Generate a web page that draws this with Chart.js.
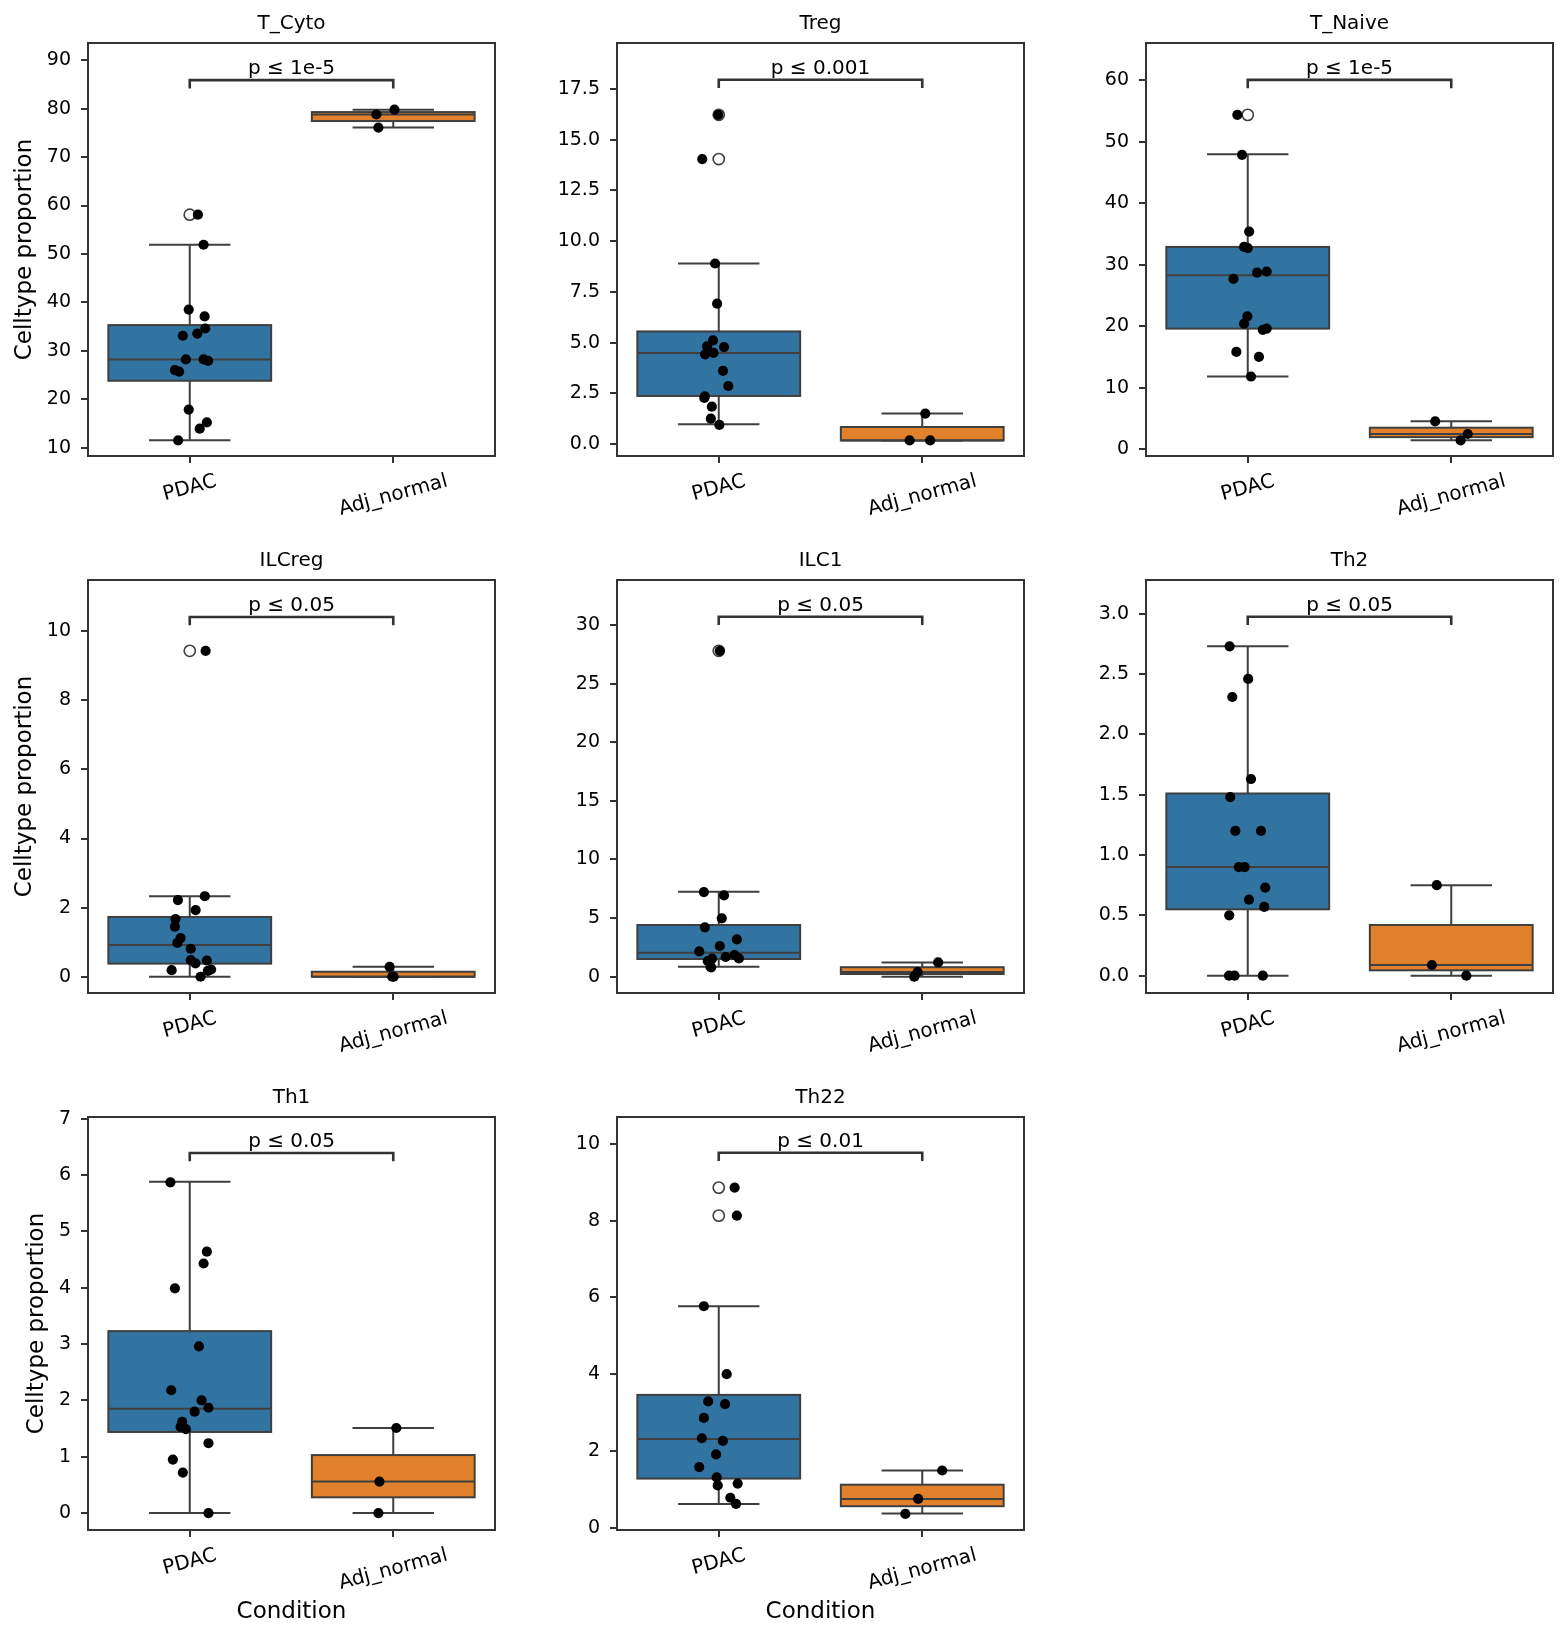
<!DOCTYPE html>
<html lang="en">
<head>
<meta charset="UTF-8">
<title>Celltype proportion by condition</title>
<script src="https://cdn.jsdelivr.net/npm/chart.js@4.4.1/dist/chart.umd.min.js"></script>
<style>
  body { margin: 0; background: #fff; }
  #fig { position: relative; width: 1568px; height: 1641px; }
  .panel { position: absolute; }
</style>
</head>
<body>
<div id="fig"></div>
<script>
// ---- data ----
const titles = ['T_Cyto', 'Treg', 'T_Naive', 'ILCreg', 'ILC1', 'Th2', 'Th1', 'Th22'];
const pLabels = ['p ≤ 1e-5', 'p ≤ 0.001', 'p ≤ 1e-5', 'p ≤ 0.05', 'p ≤ 0.05', 'p ≤ 0.05', 'p ≤ 0.05', 'p ≤ 0.01'];
const conditions = ['PDAC', 'Adj_normal'];

const yMin = [8.26, -0.59, -1.14, -0.47, -1.39, -0.144, -0.3, -0.06];
const yMax = [93.57, 19.77, 66.1, 11.48, 33.84, 3.28, 7.03, 10.7];
const yTicks = [
  [10, 20, 30, 40, 50, 60, 70, 80, 90],
  [0, 2.5, 5, 7.5, 10, 12.5, 15, 17.5],
  [0, 10, 20, 30, 40, 50, 60],
  [0, 2, 4, 6, 8, 10],
  [0, 5, 10, 15, 20, 25, 30],
  [0, 0.5, 1, 1.5, 2, 2.5, 3],
  [0, 1, 2, 3, 4, 5, 6, 7],
  [0, 2, 4, 6, 8, 10]
];
const yDecimals = [0, 1, 0, 0, 0, 1, 0, 0];

// box stats: [low whisker, q1, median, q3, high whisker]
const pdacBox = [
  [11.5, 23.8, 28.2, 35.3, 51.9],
  [0.97, 2.37, 4.49, 5.55, 8.9],
  [11.8, 19.6, 28.3, 32.9, 48.0],
  [0, 0.38, 0.92, 1.73, 2.33],
  [0.85, 1.51, 2.05, 4.41, 7.25],
  [0, 0.55, 0.90, 1.51, 2.73],
  [0, 1.44, 1.85, 3.23, 5.88],
  [0.62, 1.28, 2.31, 3.46, 5.77]
];
const adjBox = [
  [76.1, 77.45, 78.8, 79.3, 79.8],
  [0.18, 0.18, 0.18, 0.84, 1.5],
  [1.41, 1.93, 2.44, 3.47, 4.5],
  [0, 0, 0, 0.145, 0.29],
  [0, 0.23, 0.4, 0.81, 1.22],
  [0, 0.044, 0.088, 0.42, 0.75],
  [0, 0.28, 0.56, 1.03, 1.51],
  [0.37, 0.56, 0.75, 1.12, 1.49]
];
const pdacFliers = [[58.1], [16.23, 14.05], [54.4], [9.43], [27.8], [], [], [8.86, 8.13]];

const pdacValues = [
  [58.1, 51.9, 38.5, 37.1, 34.6, 33.55, 33.1, 28.2, 28.2, 27.9, 26.0, 25.7, 17.85, 15.2, 13.9, 11.5],
  [16.23, 14.05, 8.9, 6.92, 5.11, 4.81, 4.78, 4.42, 4.49, 3.61, 2.86, 2.35, 2.27, 1.84, 1.25, 0.94],
  [54.4, 47.9, 35.4, 32.9, 32.7, 28.9, 28.7, 27.7, 21.6, 20.4, 19.6, 19.4, 15.8, 15.0, 11.8],
  [9.43, 2.33, 2.22, 1.93, 1.67, 1.45, 1.12, 0.98, 0.81, 0.48, 0.47, 0.39, 0.19, 0.21, 0.17, 0.0],
  [27.8, 7.22, 6.94, 4.98, 4.21, 3.18, 2.62, 2.16, 1.85, 1.68, 1.56, 1.54, 1.34, 0.85, 0.8],
  [2.73, 2.46, 2.31, 1.63, 1.48, 1.20, 1.20, 0.90, 0.90, 0.73, 0.63, 0.57, 0.50, 0, 0, 0],
  [5.87, 4.64, 4.43, 3.99, 2.96, 2.18, 2.0, 1.87, 1.80, 1.62, 1.53, 1.49, 1.24, 0.95, 0.72, 0],
  [8.86, 8.13, 5.77, 4.0, 3.29, 3.22, 2.86, 2.33, 2.26, 1.91, 1.58, 1.31, 1.1, 1.15, 0.78, 0.62]
];
const pdacJitter = [
  [0.04, 0.068, -0.005, 0.073, 0.076, 0.037, -0.034, -0.019, 0.068, 0.09, -0.073, -0.052, -0.005, 0.084, 0.049, -0.057],
  [-0.002, -0.081, -0.018, -0.008, -0.028, -0.057, 0.026, -0.067, -0.026, 0.021, 0.047, -0.068, -0.071, -0.034, -0.039, 0.003],
  [-0.051, -0.028, 0.007, -0.018, 0, 0.093, 0.046, -0.07, -0.002, -0.018, 0.093, 0.074, -0.056, 0.055, 0.016],
  [0.078, 0.074, -0.058, 0.029, -0.07, -0.073, -0.045, -0.061, 0.005, 0.005, 0.084, 0.028, -0.089, 0.105, 0.089, 0.053],
  [0.005, -0.073, 0.026, 0.015, -0.068, 0.089, 0.005, -0.096, 0.078, 0.034, 0.099, -0.033, -0.054, -0.041, -0.037],
  [-0.089, 0.002, -0.076, 0.016, -0.086, -0.061, 0.065, -0.044, -0.015, 0.086, 0.006, 0.081, -0.091, -0.092, -0.065, 0.074],
  [-0.095, 0.084, 0.068, -0.073, 0.045, -0.091, 0.058, 0.092, 0.024, -0.037, -0.045, -0.019, 0.092, -0.083, -0.034, 0.092],
  [0.078, 0.089, -0.073, 0.039, -0.052, 0.031, -0.073, -0.083, 0.02, -0.013, -0.096, -0.01, -0.005, 0.093, 0.057, 0.085]
];
const adjValues = [
  [79.8, 78.8, 76.1],
  [1.5, 0.18, 0.18],
  [4.5, 2.44, 1.41],
  [0.29, 0, 0],
  [1.22, 0.4, 0],
  [0.75, 0.088, 0],
  [1.51, 0.56, 0],
  [1.49, 0.75, 0.36]
];
const adjJitter = [
  [0.006, -0.083, -0.073],
  [0.015, -0.062, 0.039],
  [-0.079, 0.081, 0.046],
  [-0.018, -0.005, 0.002],
  [0.078, -0.023, -0.039],
  [-0.071, -0.095, 0.074],
  [0.015, -0.068, -0.073],
  [0.098, -0.02, -0.083]
];
const bracketY = [85.9, 17.96, 60.1, 10.41, 30.7, 2.975, 6.39, 9.77];

// ---- look ----
const boxColors = ['#3274a1', '#e1812c'];
const lineColor = '#3f3f3f';
const spineColor = '#333333';
Chart.defaults.font.family = "'DejaVu Sans', sans-serif";

// panels are 508x556 canvases; the axes box sits at (88, 43) size 407x413
const colLeft = [0, 529, 1058];
const rowTop = [0, 537, 1074];
const ylabelPad = [10.9, 10.9, 22.9];

const boxPlugin = {
  id: 'boxes',
  beforeDatasetsDraw(chart) {
    const i = chart.options.plugins.boxes.panel;
    const { ctx } = chart;
    const x = chart.scales.x, y = chart.scales.y;
    [pdacBox[i], adjBox[i]].forEach((b, c) => {
      const [lo, q1, med, q3, hi] = b.map(v => y.getPixelForValue(v));
      const cx = x.getPixelForValue(c);
      const bl = x.getPixelForValue(c - 0.4), br = x.getPixelForValue(c + 0.4);
      const cl = x.getPixelForValue(c - 0.2), cr = x.getPixelForValue(c + 0.2);
      ctx.save();
      ctx.strokeStyle = lineColor;
      ctx.lineWidth = 2;
      ctx.beginPath();
      ctx.moveTo(cx, q1); ctx.lineTo(cx, lo);
      ctx.moveTo(cx, q3); ctx.lineTo(cx, hi);
      ctx.moveTo(cl, lo); ctx.lineTo(cr, lo);
      ctx.moveTo(cl, hi); ctx.lineTo(cr, hi);
      ctx.stroke();
      ctx.fillStyle = boxColors[c];
      ctx.fillRect(bl, q3, br - bl, q1 - q3);
      ctx.strokeRect(bl, q3, br - bl, q1 - q3);
      ctx.beginPath();
      ctx.moveTo(bl, med); ctx.lineTo(br, med);
      ctx.stroke();
      ctx.restore();
    });
  },
  afterDraw(chart) {
    const i = chart.options.plugins.boxes.panel;
    const { ctx, chartArea: a } = chart;
    const x = chart.scales.x, y = chart.scales.y;
    ctx.save();
    // full frame
    ctx.strokeStyle = spineColor;
    ctx.lineWidth = 2;
    ctx.strokeRect(a.left, a.top, a.right - a.left, a.bottom - a.top);

    // significance bracket
    const by = y.getPixelForValue(bracketY[i]);
    const x0 = x.getPixelForValue(0), x1 = x.getPixelForValue(1);
    ctx.strokeStyle = '#333333';
    ctx.lineWidth = 2.6;
    ctx.beginPath();
    ctx.moveTo(x0, by + 8.3); ctx.lineTo(x0, by); ctx.lineTo(x1, by); ctx.lineTo(x1, by + 8.3);
    ctx.stroke();
    ctx.fillStyle = '#000';
    ctx.font = "20px 'DejaVu Sans'";
    ctx.textAlign = 'center';
    ctx.textBaseline = 'alphabetic';
    ctx.fillText(pLabels[i], (x0 + x1) / 2, by - 6);

    // rotated category labels, centred under the ticks
    ctx.font = "20px 'DejaVu Sans'";
    ctx.textBaseline = 'middle';
    const ang = 15 * Math.PI / 180;
    conditions.forEach((lab, c) => {
      const w = ctx.measureText(lab).width;
      const bh = w * Math.sin(ang) + 23 * Math.cos(ang);
      const cx = x.getPixelForValue(c);
      const cy = a.bottom + 14 + bh / 2;
      ctx.save();
      ctx.translate(cx, cy);
      ctx.rotate(-ang);
      ctx.fillText(lab, 0, 0);
      ctx.restore();
    });
    ctx.restore();
  }
};

function makePanel(i) {
  const row = Math.floor(i / 3), col = i % 3;
  const canvas = document.createElement('canvas');
  canvas.className = 'panel';
  canvas.width = 508;
  canvas.height = 556;
  canvas.style.width = '508px';
  canvas.style.height = '556px';
  canvas.style.left = colLeft[col] + 'px';
  canvas.style.top = rowTop[row] + 'px';
  document.getElementById('fig').appendChild(canvas);

  const axisGrid = { drawOnChartArea: false, drawTicks: true, tickLength: 7, color: spineColor, lineWidth: 2 };
  const axisBorder = { display: true, color: spineColor, width: 2 };

  new Chart(canvas, {
    type: 'scatter',
    data: {
      datasets: [
        {
          label: 'PDAC',
          data: pdacValues[i].map((v, k) => ({ x: pdacJitter[i][k], y: v })),
          pointRadius: 5.1, pointBorderWidth: 0, pointBackgroundColor: '#000'
        },
        {
          label: 'Adj_normal',
          data: adjValues[i].map((v, k) => ({ x: 1 + adjJitter[i][k], y: v })),
          pointRadius: 5.1, pointBorderWidth: 0, pointBackgroundColor: '#000'
        },
        {
          label: 'outliers',
          data: pdacFliers[i].map(v => ({ x: 0, y: v })),
          pointRadius: 5.6, pointBorderWidth: 1.6,
          pointBorderColor: lineColor, pointBackgroundColor: 'rgba(255,255,255,0)'
        }
      ]
    },
    options: {
      responsive: false,
      animation: false,
      events: [],
      layout: { padding: { left: 0, top: 0, right: 13, bottom: 0 } },
      plugins: {
        legend: { display: false },
        tooltip: { enabled: false },
        title: {
          display: true, text: titles[i], color: '#000', fullSize: false,
          font: { size: 20, weight: 'normal', lineHeight: 1.2 },
          padding: { top: 11.5, bottom: 7.5 }
        },
        boxes: { panel: i }
      },
      scales: {
        x: {
          type: 'linear', min: -0.5, max: 1.5,
          afterBuildTicks: s => { s.ticks = [{ value: 0 }, { value: 1 }]; },
          afterFit: s => { s.height = 100; },
          ticks: { display: false },
          grid: axisGrid,
          border: axisBorder,
          title: {
            display: row === 2, text: 'Condition', color: '#000',
            font: { size: 23, lineHeight: 1.2 }, padding: { top: 0, bottom: 4.2 }
          }
        },
        y: {
          min: yMin[i], max: yMax[i],
          afterBuildTicks: s => { s.ticks = yTicks[i].map(v => ({ value: v })); },
          afterFit: s => { s.width = 88; },
          ticks: {
            color: '#000', padding: 10, font: { size: 19 },
            callback: v => Number(v).toFixed(yDecimals[i])
          },
          grid: axisGrid,
          border: axisBorder,
          title: {
            display: col === 0, text: 'Celltype proportion', color: '#000',
            font: { size: 23, lineHeight: 1.2 }, padding: { top: ylabelPad[row], bottom: 0 }
          }
        }
      }
    },
    plugins: [boxPlugin]
  });
}

titles.forEach((t, i) => makePanel(i));
</script>
</body>
</html>
